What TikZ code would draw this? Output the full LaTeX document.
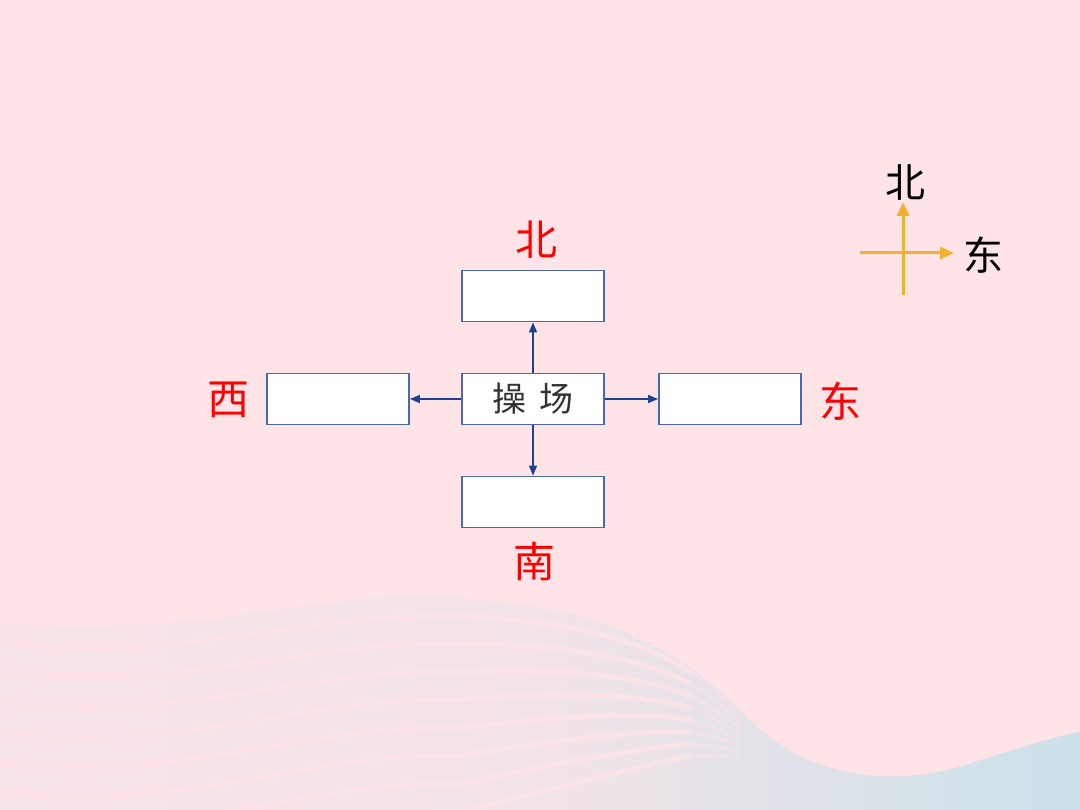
\documentclass[tikz,border=0pt]{standalone}
\usepackage{fontspec}
\setmainfont{Noto Sans CJK SC}
\newfontfamily\cjk{Noto Sans CJK SC}
\usetikzlibrary{arrows.meta}
\definecolor{bgpink}{HTML}{FFE4E7}
\definecolor{wavepink}{HTML}{F2E3E8}
\definecolor{bluish}{HTML}{CBE1EA}
\definecolor{boxblue}{HTML}{4A68AE}
\definecolor{arrblue}{HTML}{1F3F8F}
\definecolor{compass}{HTML}{F0B030}
\definecolor{labred}{HTML}{FF0000}
\tikzset{
  blank/.style={draw=boxblue, line width=1.8pt, fill=white, minimum width=142pt, minimum height=51pt, inner sep=0pt},
  conn/.style={draw=arrblue, line width=1.4pt, -{Triangle[length=10pt,width=8pt]}},
  dirlabel/.style={text=labred, font=\cjk\fontsize{42}{44}\selectfont, inner sep=0pt},
  comp/.style={draw=compass, line width=3pt},
}
\begin{document}
\begin{tikzpicture}[x=1pt,y=-1pt]
\useasboundingbox (0,0) rectangle (1080,810);
\fill[bgpink] (0,0) rectangle (1080,810);
% lower decoration
\shade[left color=bgpink!50!wavepink, right color=bluish, middle color=wavepink]
  (0,625) .. controls (200,640) and (300,590) .. (450,598)
  .. controls (620,605) and (690,660) .. (750,720)
  .. controls (810,780) and (900,790) .. (980,760)
  .. controls (1030,745) and (1060,735) .. (1080,732)
  -- (1080,810) -- (0,810) -- cycle;
\foreach \k in {0,...,7}{
  \draw[bgpink, line width=5pt, opacity=0.8]
    (0,642+30*\k) .. controls (200,662+30*\k) and (300,612+28*\k) .. (460,616+28*\k)
    .. controls (580,621+23*\k) and (650,645+17*\k) .. (690,672+12*\k);
  \draw[bgpink, line width=3pt, opacity=0.4]
    (690,672+12*\k) .. controls (710,686+10*\k) and (725,700+8*\k) .. (740,716+6*\k);
}
% boxes
\node[blank] (ctr) at (533,399) {\cjk\fontsize{34}{36}\selectfont\color{black!80}操\hspace{14pt}场};
\node[blank] (n) at (533,296) {};
\node[blank] (s) at (533,502) {};
\node[blank] (w) at (338,399) {};
\node[blank] (e) at (730,399) {};
\draw[conn] (ctr.north) -- (n.south);
\draw[conn] (ctr.south) -- (s.north);
\draw[conn] (ctr.west) -- (w.east);
\draw[conn] (ctr.east) -- (e.west);
% labels
\node[dirlabel] (ln) at (536,240) {北};
\node[dirlabel] (ls) at (534,562) {南};
\node[dirlabel] (lw) at (228,400) {西};
\node[dirlabel] (le) at (840,401) {东};
% compass
\coordinate (cb) at (903,295);
\coordinate (ct) at (903,202);
\coordinate (cl) at (860,253);
\coordinate (cr) at (954,253);
\draw[comp, -{Triangle[length=14pt,width=12pt]}] (cb) -- (ct);
\draw[comp, -{Triangle[length=14pt,width=12pt]}] (cl) -- (cr);
\node[inner sep=0pt, font=\cjk\fontsize{40}{42}\selectfont] (cn) at (905,182) {北};
\node[inner sep=0pt, font=\cjk\fontsize{40}{42}\selectfont] (ce) at (983,255) {东};
\end{tikzpicture}
\end{document}
